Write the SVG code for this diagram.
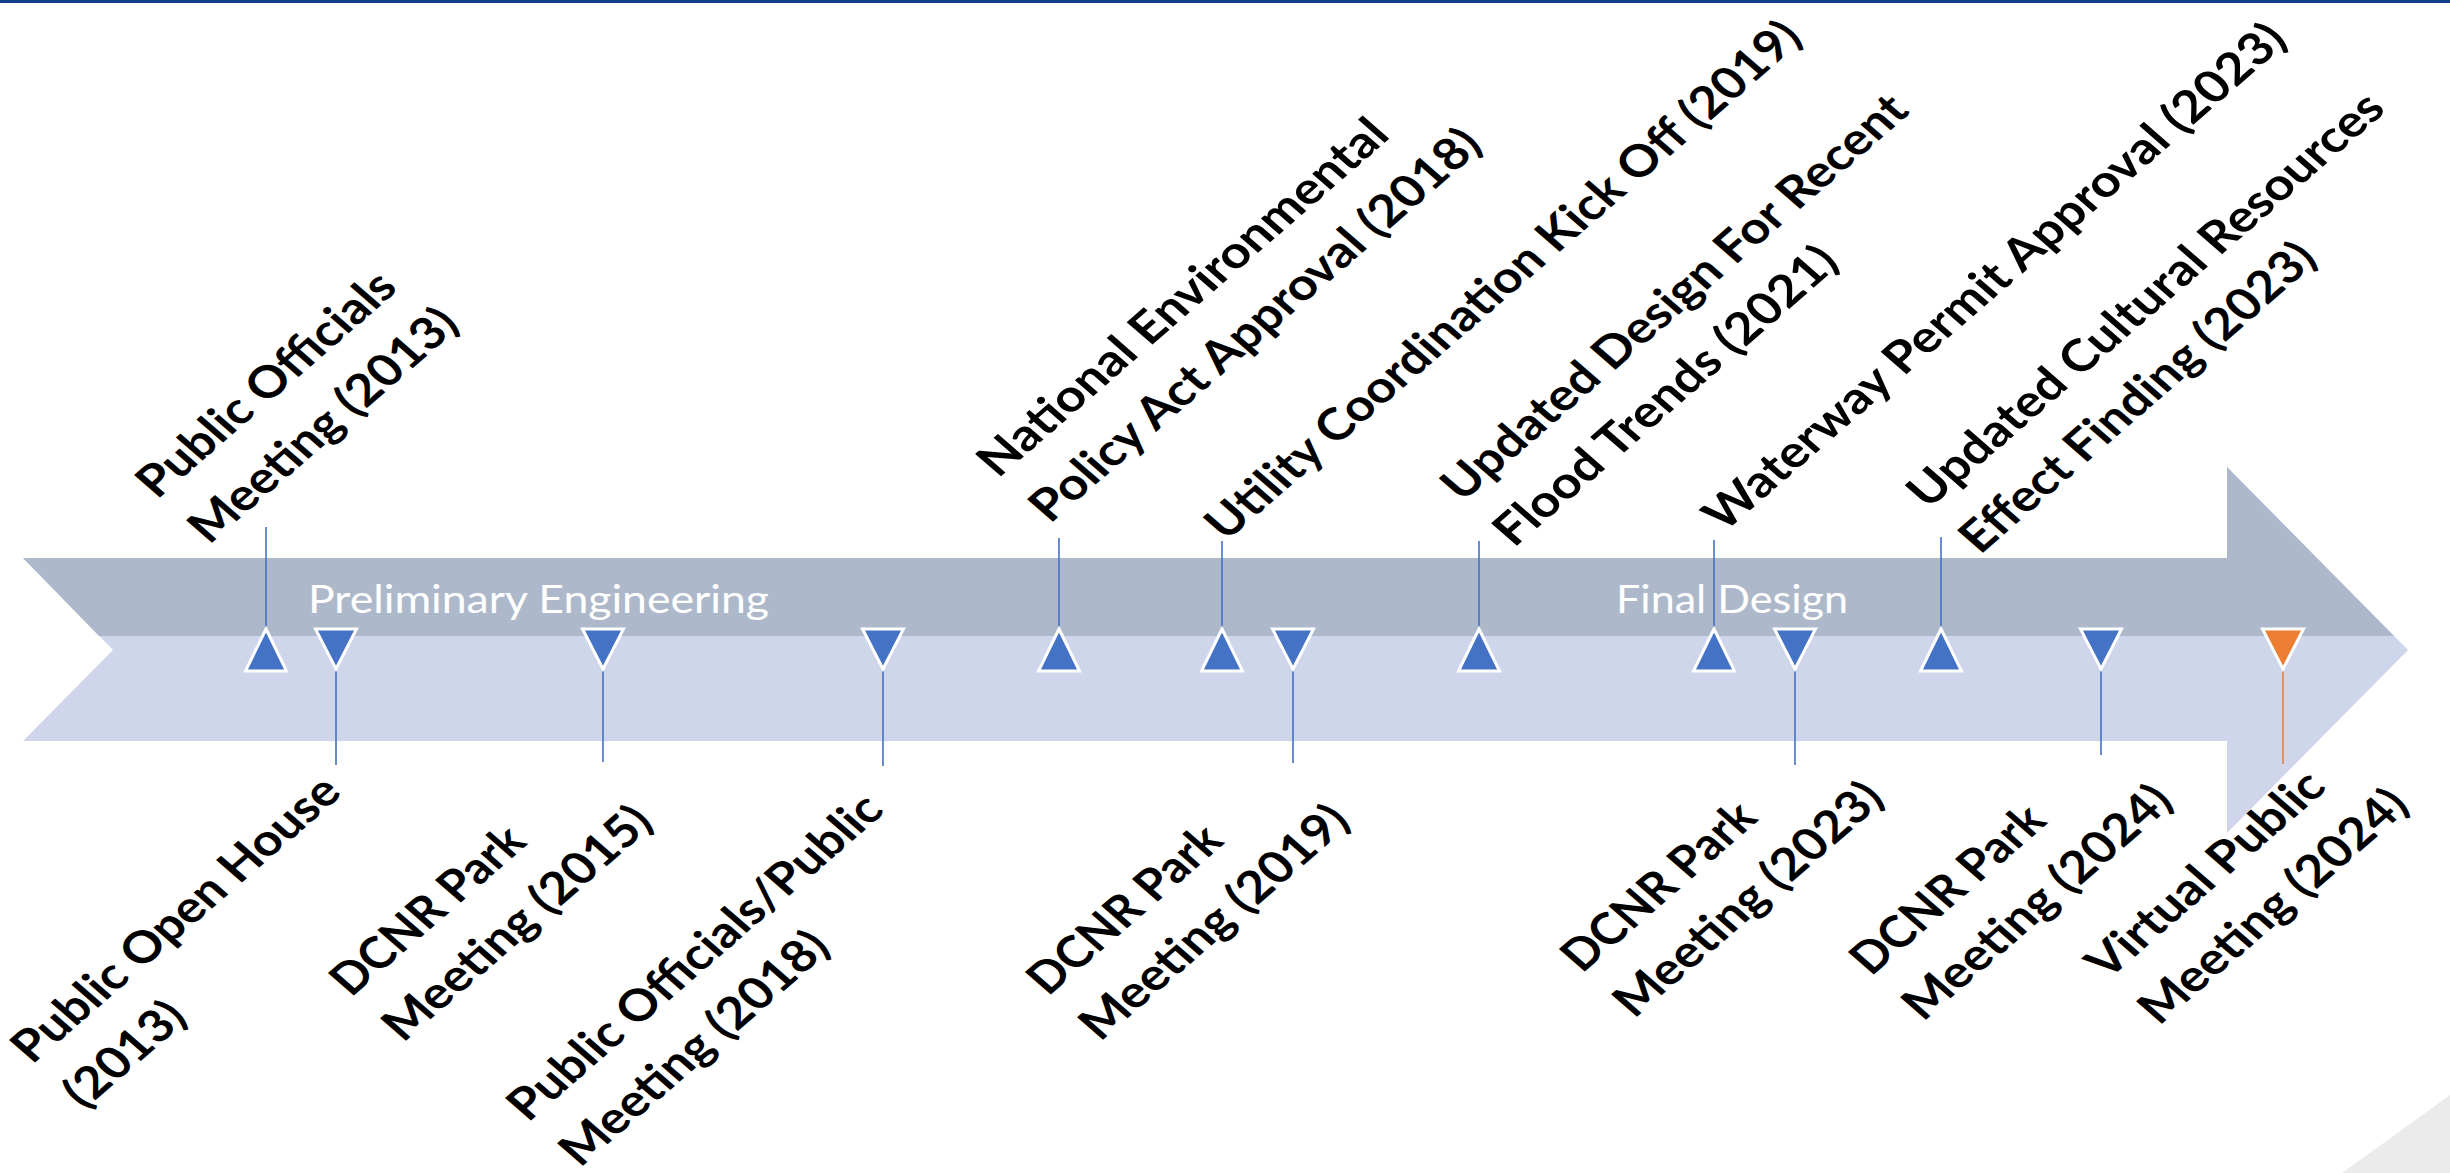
<svg xmlns="http://www.w3.org/2000/svg" width="2450" height="1173" viewBox="0 0 2450 1173">
<style>
.lbl{font-family:"Lato","Liberation Sans",sans-serif;font-weight:700;font-size:44px;fill:#000}
.phase{font-family:"Lato","Liberation Sans",sans-serif;font-size:39px;fill:#fff}
.lead{stroke:#4472C4;stroke-width:1.6;fill:none}
.lead-o{stroke:#ED7D31;stroke-width:1.6;fill:none}
.mk{fill:#4472C4;stroke:#fff;stroke-width:3;stroke-linejoin:miter}
.mk-o{fill:#ED7D31;stroke:#fff;stroke-width:3}
</style>
<defs>
<polygon id="up" points="0,-21 20.5,21 -20.5,21"/>
<polygon id="dn" points="-20.5,-20 20.5,-20 0,20"/>
</defs>
<rect x="0" y="0" width="2450" height="1173" fill="#fff"/>
<rect x="0" y="0" width="2450" height="3" fill="#123F85"/>
<polygon points="2342,1173 2450,1095 2450,1173" fill="#EBEBEB"/>
<g id="timeline-arrow">
<polygon points="23,558 2227,558 2227,467 2408,650 2227,833 2227,741 23,741 113,650" fill="#CFD5EA"/>
<polygon points="23,558 2227,558 2227,467 2394,636 99,636" fill="#ADB9CA"/>
<text class="phase" x="308" y="613" textLength="461" lengthAdjust="spacingAndGlyphs">Preliminary Engineering</text>
<text class="phase" x="1616" y="613" textLength="232" lengthAdjust="spacingAndGlyphs">Final Design</text>
</g>
<g id="connectors">
<line class="lead" x1="266" y1="527" x2="266" y2="640"/>
<line class="lead" x1="1059" y1="538" x2="1059" y2="640"/>
<line class="lead" x1="1222" y1="541" x2="1222" y2="640"/>
<line class="lead" x1="1479" y1="541" x2="1479" y2="640"/>
<line class="lead" x1="1714" y1="540" x2="1714" y2="640"/>
<line class="lead" x1="1941" y1="537" x2="1941" y2="640"/>
<line class="lead" x1="336" y1="660" x2="336" y2="765"/>
<line class="lead" x1="603" y1="660" x2="603" y2="762"/>
<line class="lead" x1="883" y1="660" x2="883" y2="766"/>
<line class="lead" x1="1293" y1="660" x2="1293" y2="763"/>
<line class="lead" x1="1795" y1="660" x2="1795" y2="765"/>
<line class="lead" x1="2101" y1="660" x2="2101" y2="755"/>
<line class="lead-o" x1="2283" y1="660" x2="2283" y2="764"/>
</g>
<g id="m-public-officials-2013">
<use href="#up" class="mk" x="266" y="650"/>
<g transform="translate(157,500) scale(1.15,1) rotate(-45)"><text class="lbl" x="0" y="0" textLength="298" lengthAdjust="spacingAndGlyphs">Public Officials</text><text class="lbl" x="0" y="64" textLength="310" lengthAdjust="spacingAndGlyphs">Meeting (2013)</text></g>
</g>
<g id="m-public-open-house-2013">
<use href="#dn" class="mk" x="336" y="649"/>
<g transform="translate(32,1065) scale(1.15,1) rotate(-45)"><text class="lbl" x="0" y="0" textLength="383" lengthAdjust="spacingAndGlyphs">Public Open House</text><text class="lbl" x="0" y="64" textLength="129" lengthAdjust="spacingAndGlyphs">(2013)</text></g>
</g>
<g id="m-dcnr-2015">
<use href="#dn" class="mk" x="603" y="649"/>
<g transform="translate(351,998) scale(1.15,1) rotate(-45)"><text class="lbl" x="0" y="0" textLength="218" lengthAdjust="spacingAndGlyphs">DCNR Park</text><text class="lbl" x="0" y="64" textLength="310" lengthAdjust="spacingAndGlyphs">Meeting (2015)</text></g>
</g>
<g id="m-public-meeting-2018">
<use href="#dn" class="mk" x="883" y="649"/>
<g transform="translate(528,1123) scale(1.15,1) rotate(-45)"><text class="lbl" x="0" y="0" textLength="440" lengthAdjust="spacingAndGlyphs">Public Officials/Public</text><text class="lbl" x="0" y="64" textLength="310" lengthAdjust="spacingAndGlyphs">Meeting (2018)</text></g>
</g>
<g id="m-nepa-2018">
<use href="#up" class="mk" x="1059" y="650"/>
<g transform="translate(998,479) scale(1.15,1) rotate(-45)"><text class="lbl" x="0" y="0" textLength="484" lengthAdjust="spacingAndGlyphs">National Environmental</text><text class="lbl" x="0" y="64" textLength="534" lengthAdjust="spacingAndGlyphs">Policy Act Approval (2018)</text></g>
</g>
<g id="m-utility-2019">
<use href="#up" class="mk" x="1222" y="650"/>
<g transform="translate(1226,542) scale(1.15,1) rotate(-45)"><text class="lbl" x="0" y="0" textLength="711" lengthAdjust="spacingAndGlyphs">Utility Coordination Kick Off (2019)</text></g>
</g>
<g id="m-dcnr-2019">
<use href="#dn" class="mk" x="1293" y="649"/>
<g transform="translate(1048,997) scale(1.15,1) rotate(-45)"><text class="lbl" x="0" y="0" textLength="218" lengthAdjust="spacingAndGlyphs">DCNR Park</text><text class="lbl" x="0" y="64" textLength="310" lengthAdjust="spacingAndGlyphs">Meeting (2019)</text></g>
</g>
<g id="m-updated-design-2021">
<use href="#up" class="mk" x="1479" y="650"/>
<g transform="translate(1462,503) scale(1.15,1) rotate(-45)"><text class="lbl" x="0" y="0" textLength="552" lengthAdjust="spacingAndGlyphs">Updated Design For Recent</text><text class="lbl" x="0" y="64" textLength="402" lengthAdjust="spacingAndGlyphs">Flood Trends (2021)</text></g>
</g>
<g id="m-waterway-2023">
<use href="#up" class="mk" x="1714" y="650"/>
<g transform="translate(1724,533) scale(1.15,1) rotate(-45)"><text class="lbl" x="0" y="0" textLength="695" lengthAdjust="spacingAndGlyphs">Waterway Permit Approval (2023)</text></g>
</g>
<g id="m-dcnr-2023">
<use href="#dn" class="mk" x="1795" y="649"/>
<g transform="translate(1582,974) scale(1.15,1) rotate(-45)"><text class="lbl" x="0" y="0" textLength="218" lengthAdjust="spacingAndGlyphs">DCNR Park</text><text class="lbl" x="0" y="64" textLength="310" lengthAdjust="spacingAndGlyphs">Meeting (2023)</text></g>
</g>
<g id="m-cultural-2023">
<use href="#up" class="mk" x="1941" y="650"/>
<g transform="translate(1928,510) scale(1.15,1) rotate(-45)"><text class="lbl" x="0" y="0" textLength="565" lengthAdjust="spacingAndGlyphs">Updated Cultural Resources</text><text class="lbl" x="0" y="64" textLength="417" lengthAdjust="spacingAndGlyphs">Effect Finding (2023)</text></g>
</g>
<g id="m-dcnr-2024">
<use href="#dn" class="mk" x="2101" y="649"/>
<g transform="translate(1871,977) scale(1.15,1) rotate(-45)"><text class="lbl" x="0" y="0" textLength="218" lengthAdjust="spacingAndGlyphs">DCNR Park</text><text class="lbl" x="0" y="64" textLength="310" lengthAdjust="spacingAndGlyphs">Meeting (2024)</text></g>
</g>
<g id="m-virtual-2024">
<use href="#dn" class="mk-o" x="2283" y="649"/>
<g transform="translate(2107,981) scale(1.15,1) rotate(-45)"><text class="lbl" x="0" y="0" textLength="272" lengthAdjust="spacingAndGlyphs">Virtual Public</text><text class="lbl" x="0" y="64" textLength="310" lengthAdjust="spacingAndGlyphs">Meeting (2024)</text></g>
</g>
</svg>
